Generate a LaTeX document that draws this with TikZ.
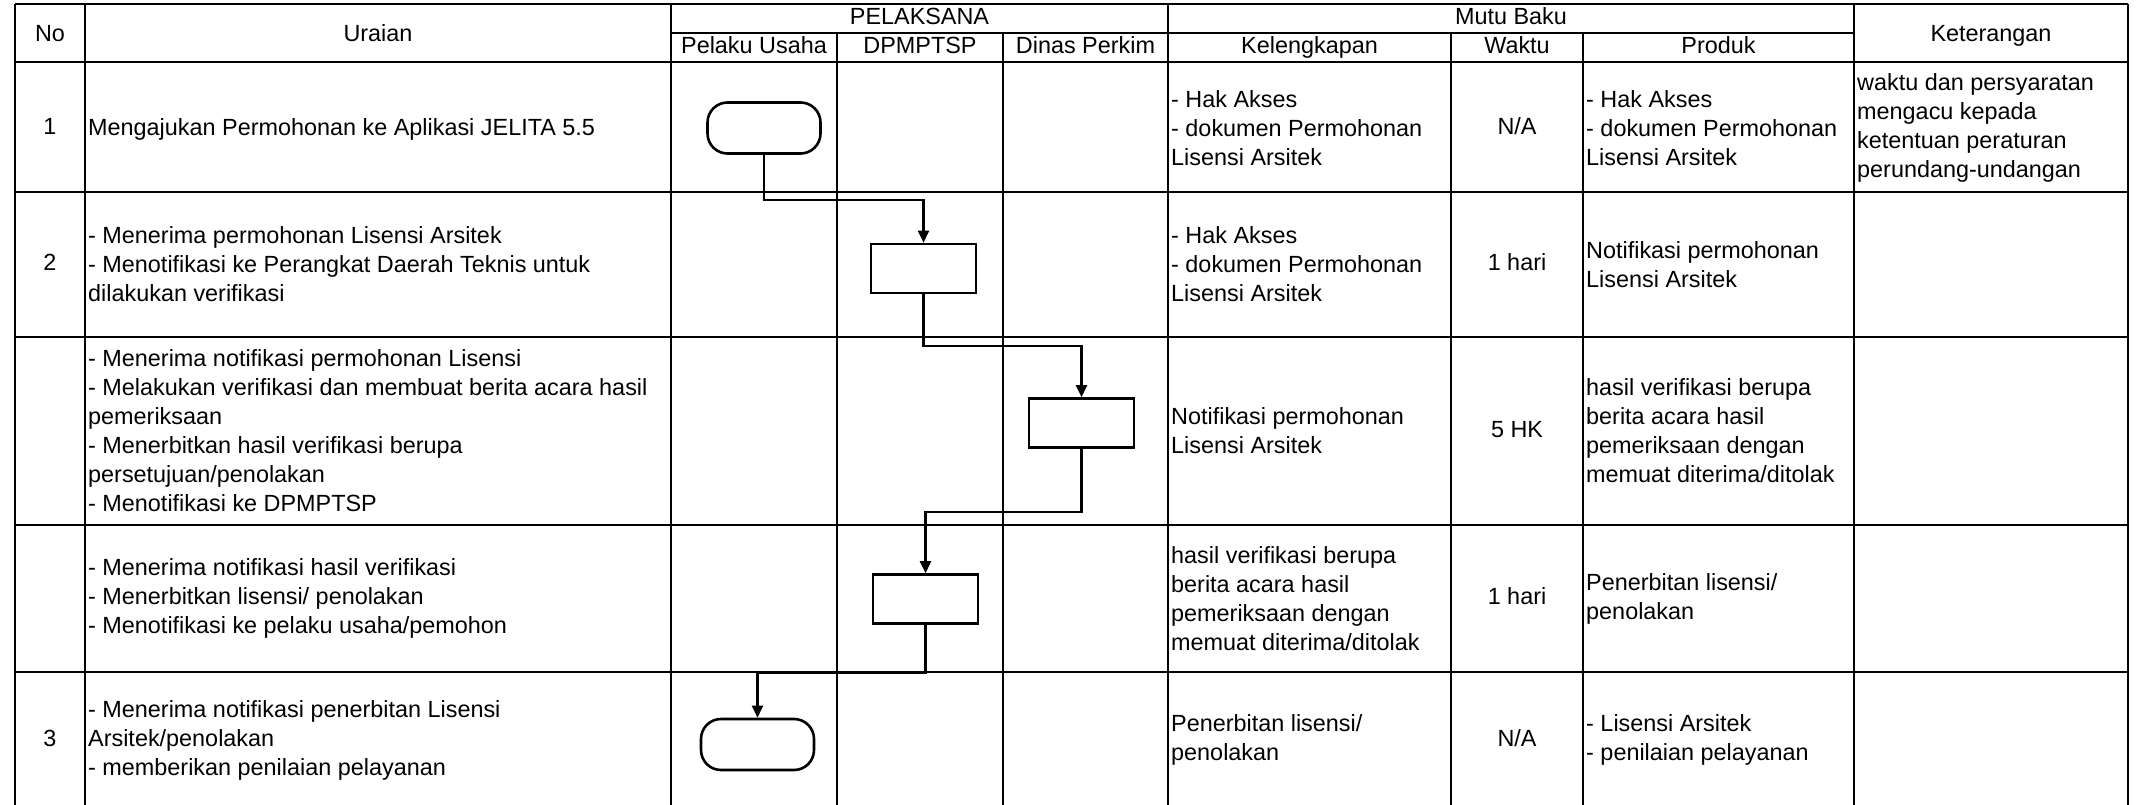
\documentclass[tikz,border=0pt]{standalone}
\usepackage{fontspec}
\setmainfont{Liberation Sans}
\usetikzlibrary{arrows.meta}

\begin{document}
\begin{tikzpicture}[x=1pt, y=-1pt,
    every node/.style={font=\fontsize{23.4}{29}\selectfont, inner sep=0pt},
    txt/.style={anchor=west, align=left},
    mid/.style={anchor=center, text height=17pt, text depth=5pt},
    grid/.style={line width=1.3pt},
    proc/.style={draw, line width=2.6pt, minimum width=105pt, minimum height=49pt},
    term/.style={draw, line width=2.6pt, rounded corners=20pt, minimum width=113pt, minimum height=51pt},
    flow/.style={line width=2.2pt, -{Triangle[length=12pt, width=11pt]}},
  ]
  \useasboundingbox (0,0) rectangle (2136,805);

  % table rules
  \draw[grid] (15,4) -- (2128,4);
  \draw[grid] (671,33) -- (1854,33);
  \foreach \y in {62,192,337,525,672}
    \draw[grid] (15,\y) -- (2128,\y);
  \foreach \x in {15,85,671,1168,1854,2128}
    \draw[grid] (\x,4) -- (\x,805);
  \foreach \x in {837,1003,1451,1583}
    \draw[grid] (\x,33) -- (\x,805);

  % header
  \node[mid] (hno) at (50,35.5) {No};
  \node[mid] (hur) at (378,35.5) {Uraian};
  \node[mid] (hket) at (1991,35.5) {Keterangan};
  \node[mid] (hpel) at (919.5,19) {PELAKSANA};
  \node[mid] (hmutu) at (1511,19) {Mutu Baku};
  \node[mid] (hpu) at (754,47.5) {Pelaku Usaha};
  \node[mid] (hdpm) at (920,47.5) {DPMPTSP};
  \node[mid] (hdin) at (1085.5,47.5) {Dinas Perkim};
  \node[mid] (hkel) at (1309.5,47.5) {Kelengkapan};
  \node[mid] (hwkt) at (1517,47.5) {Waktu};
  \node[mid] (hprd) at (1718.5,47.5) {Produk};

  % row 1
  \node[mid] (no1) at (50,129) {1};
  \node[txt] (ur1) at (88,129) {Mengajukan Permohonan ke Aplikasi JELITA 5.5};
  \node[txt] (kel1) at (1171,128) {- Hak Akses\\- dokumen Permohonan\\Lisensi Arsitek};
  \node[mid] (wkt1) at (1517,129) {N/A};
  \node[txt] (prd1) at (1586,128) {- Hak Akses\\- dokumen Permohonan\\Lisensi Arsitek};
  \node[txt] (ket1) at (1857,128) {waktu dan persyaratan\\mengacu kepada\\ketentuan peraturan\\perundang-undangan};

  % row 2
  \node[mid] (no2) at (50,264.5) {2};
  \node[txt] (ur2) at (88,264.5) {- Menerima permohonan Lisensi Arsitek\\- Menotifikasi ke Perangkat Daerah Teknis untuk\\dilakukan verifikasi};
  \node[txt] (kel2) at (1171,264.5) {- Hak Akses\\- dokumen Permohonan\\Lisensi Arsitek};
  \node[mid] (wkt2) at (1517,264.5) {1 hari};
  \node[txt] (prd2) at (1586,264.5) {Notifikasi permohonan\\Lisensi Arsitek};

  % row 3
  \node[txt] (ur3) at (88,431) {- Menerima notifikasi permohonan Lisensi\\- Melakukan verifikasi dan membuat berita acara hasil\\pemeriksaan\\- Menerbitkan hasil verifikasi berupa\\persetujuan/penolakan\\- Menotifikasi ke DPMPTSP};
  \node[txt] (kel3) at (1171,431) {Notifikasi permohonan\\Lisensi Arsitek};
  \node[mid] (wkt3) at (1517,431) {5 HK};
  \node[txt] (prd3) at (1586,431) {hasil verifikasi berupa\\berita acara hasil\\pemeriksaan dengan\\memuat diterima/ditolak};

  % row 4
  \node[txt] (ur4) at (88,598.5) {- Menerima notifikasi hasil verifikasi\\- Menerbitkan lisensi/ penolakan\\- Menotifikasi ke pelaku usaha/pemohon};
  \node[txt] (kel4) at (1171,598.5) {hasil verifikasi berupa\\berita acara hasil\\pemeriksaan dengan\\memuat diterima/ditolak};
  \node[mid] (wkt4) at (1517,598.5) {1 hari};
  \node[txt] (prd4) at (1586,598.5) {Penerbitan lisensi/\\penolakan};

  % row 5
  \node[mid] (no5) at (50,740) {3};
  \node[txt] (ur5) at (88,740) {- Menerima notifikasi penerbitan Lisensi\\Arsitek/penolakan\\- memberikan penilaian pelayanan};
  \node[txt] (kel5) at (1171,740) {Penerbitan lisensi/\\penolakan};
  \node[mid] (wkt5) at (1517,740) {N/A};
  \node[txt] (prd5) at (1586,740) {- Lisensi Arsitek\\- penilaian pelayanan};

  % flow
  \node[term] (t1) at (764,128) {};
  \node[proc] (b2) at (923.5,268.5) {};
  \node[proc] (b3) at (1081.5,423) {};
  \node[proc] (b4) at (925.5,599) {};
  \node[term] (t2) at (757.5,744.5) {};

  \draw[flow] (t1.south) -- ++(0,45) -| (b2.north);
  \draw[flow] (b2.south) -- ++(0,52) -| (b3.north);
  \draw[flow] (b3.south) -- ++(0,63) -| (b4.north);
  \draw[flow] (b4.south) -- ++(0,48) -| (t2.north);
\end{tikzpicture}
\end{document}
